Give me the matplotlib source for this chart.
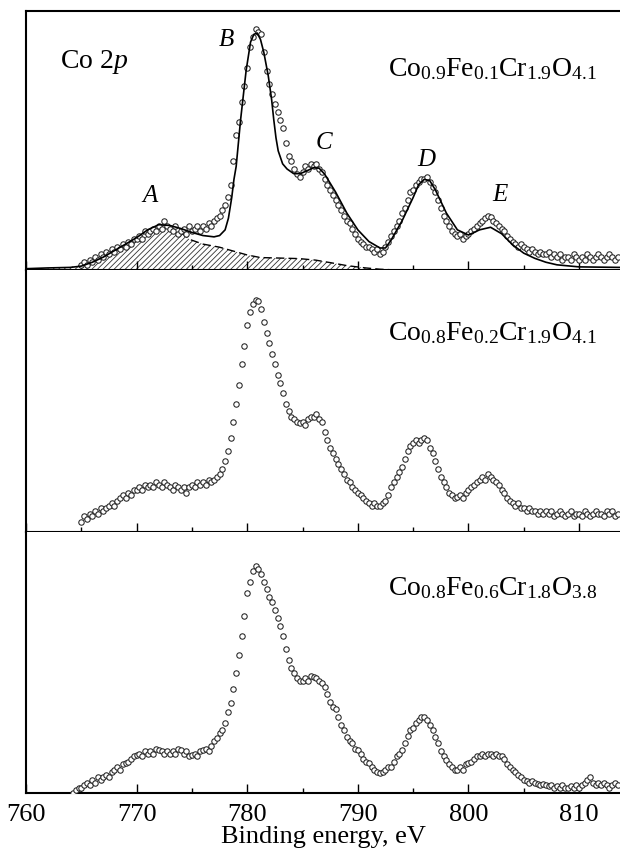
import numpy as np
import matplotlib
matplotlib.use("Agg")
import matplotlib.pyplot as plt

plt.rcParams['font.family'] = ['Liberation Serif', 'DejaVu Serif']
plt.rcParams['mathtext.fontset'] = 'custom'
plt.rcParams['mathtext.rm'] = 'Liberation Serif'
plt.rcParams['mathtext.it'] = 'Liberation Serif:italic'
plt.rcParams['hatch.linewidth'] = 0.6

# energy step of the measured points, eV
step = 0.25

# Co0.9Fe0.1Cr1.9O4.1, points from 765 eV
top_start = 765.0
top_data = [
    0.02, 0.03, 0.02, 0.04, 0.03, 0.05, 0.04, 0.06, 0.05, 0.07, 0.06, 0.08,
    0.07, 0.09, 0.08, 0.10, 0.09, 0.11, 0.10, 0.12, 0.12, 0.13, 0.12, 0.15,
    0.14, 0.15, 0.16, 0.15, 0.17, 0.16, 0.19, 0.17, 0.16, 0.15, 0.17, 0.14,
    0.15, 0.16, 0.14, 0.17, 0.15, 0.16, 0.17, 0.15, 0.17, 0.16, 0.18, 0.17,
    0.19, 0.20, 0.21, 0.23, 0.25, 0.28, 0.33, 0.42, 0.52, 0.57, 0.65, 0.71,
    0.78, 0.86, 0.90, 0.93, 0.92, 0.91, 0.84, 0.77, 0.72, 0.68, 0.64, 0.61,
    0.58, 0.55, 0.49, 0.44, 0.42, 0.39, 0.37, 0.36, 0.38, 0.40, 0.39, 0.41,
    0.40, 0.41, 0.39, 0.38, 0.35, 0.33, 0.31, 0.29, 0.27, 0.25, 0.23, 0.21,
    0.19, 0.18, 0.16, 0.14, 0.12, 0.11, 0.10, 0.09, 0.09, 0.08, 0.07, 0.08,
    0.06, 0.07, 0.09, 0.11, 0.13, 0.15, 0.17, 0.19, 0.22, 0.24, 0.27, 0.30,
    0.31, 0.33, 0.34, 0.35, 0.35, 0.36, 0.34, 0.32, 0.30, 0.27, 0.24, 0.21,
    0.19, 0.17, 0.15, 0.14, 0.13, 0.14, 0.12, 0.13, 0.14, 0.15, 0.16, 0.17,
    0.18, 0.19, 0.20, 0.21, 0.205, 0.19, 0.18, 0.17, 0.16, 0.15, 0.13, 0.12,
    0.11, 0.10, 0.09, 0.10, 0.09, 0.08, 0.07, 0.08, 0.07, 0.06, 0.07, 0.06,
    0.06, 0.07, 0.05, 0.06, 0.05, 0.06, 0.04, 0.05, 0.05, 0.04, 0.06, 0.05,
    0.04, 0.05, 0.04, 0.06, 0.05, 0.04, 0.05, 0.06, 0.05, 0.04, 0.05, 0.06,
    0.05, 0.04, 0.05,
]

# Co0.8Fe0.2Cr1.9O4.1
mid_start = 765.0
mid_data = [
    0.04, 0.06, 0.05, 0.07, 0.06, 0.08, 0.07, 0.09, 0.08, 0.09, 0.10, 0.11,
    0.10, 0.12, 0.13, 0.14, 0.13, 0.15, 0.14, 0.16, 0.16, 0.17, 0.16, 0.18,
    0.17, 0.18, 0.17, 0.19, 0.18, 0.17, 0.19, 0.18, 0.17, 0.16, 0.18, 0.17,
    0.16, 0.17, 0.15, 0.17, 0.18, 0.17, 0.19, 0.18, 0.19, 0.18, 0.20, 0.19,
    0.20, 0.21, 0.22, 0.24, 0.27, 0.31, 0.36, 0.42, 0.49, 0.56, 0.64, 0.71,
    0.79, 0.84, 0.87, 0.885, 0.88, 0.85, 0.80, 0.76, 0.72, 0.68, 0.64, 0.60,
    0.57, 0.53, 0.49, 0.46, 0.44, 0.43, 0.42, 0.415, 0.42, 0.41, 0.43, 0.44,
    0.44, 0.45, 0.43, 0.42, 0.38, 0.35, 0.32, 0.30, 0.28, 0.26, 0.24, 0.22,
    0.20, 0.19, 0.17, 0.16, 0.15, 0.14, 0.13, 0.12, 0.11, 0.10, 0.11, 0.10,
    0.10, 0.11, 0.12, 0.14, 0.17, 0.19, 0.21, 0.23, 0.25, 0.28, 0.31, 0.33,
    0.34, 0.35, 0.34, 0.35, 0.36, 0.35, 0.32, 0.30, 0.27, 0.24, 0.21, 0.19,
    0.17, 0.15, 0.14, 0.13, 0.135, 0.14, 0.13, 0.15, 0.16, 0.17, 0.18, 0.19,
    0.20, 0.21, 0.20, 0.22, 0.21, 0.20, 0.19, 0.18, 0.16, 0.15, 0.13, 0.12,
    0.11, 0.10, 0.11, 0.09, 0.09, 0.08, 0.09, 0.08, 0.08, 0.07, 0.08, 0.07,
    0.08, 0.07, 0.08, 0.06, 0.07, 0.08, 0.07, 0.06, 0.07, 0.08, 0.06, 0.07,
    0.07, 0.06, 0.08, 0.07, 0.06, 0.07, 0.08, 0.07, 0.07, 0.06, 0.08, 0.07,
    0.08, 0.06, 0.07,
]

# Co0.8Fe0.6Cr1.8O3.8
bot_start = 764.25
bot_data = [
    0.0, 0.01, 0.02,
    0.02, 0.03, 0.04, 0.03, 0.05, 0.04, 0.06, 0.05, 0.06, 0.07, 0.06, 0.08,
    0.09, 0.10, 0.09, 0.11, 0.115, 0.12, 0.13, 0.14, 0.145, 0.15, 0.14, 0.16,
    0.15, 0.16, 0.15, 0.17, 0.165, 0.16, 0.15, 0.16, 0.15, 0.16, 0.15, 0.17,
    0.165, 0.15, 0.16, 0.14, 0.145, 0.15, 0.14, 0.16, 0.165, 0.17, 0.16, 0.18,
    0.20, 0.21, 0.23, 0.24, 0.27, 0.31, 0.345, 0.40, 0.46, 0.53, 0.60, 0.68,
    0.765, 0.81, 0.85, 0.87, 0.86, 0.84, 0.81, 0.78, 0.75, 0.73, 0.70, 0.67,
    0.64, 0.60, 0.55, 0.51, 0.48, 0.46, 0.44, 0.43, 0.43, 0.44, 0.43, 0.45,
    0.445, 0.44, 0.43, 0.42, 0.405, 0.38, 0.35, 0.33, 0.32, 0.29, 0.26, 0.24,
    0.215, 0.20, 0.19, 0.17, 0.165, 0.15, 0.13, 0.12, 0.115, 0.10, 0.09, 0.08,
    0.077, 0.08, 0.09, 0.10, 0.10, 0.12, 0.14, 0.15, 0.165, 0.19, 0.22, 0.24,
    0.25, 0.27, 0.28, 0.29, 0.29, 0.28, 0.26, 0.24, 0.215, 0.19, 0.16, 0.14,
    0.125, 0.11, 0.10, 0.09, 0.09, 0.10, 0.09, 0.11, 0.115, 0.12, 0.13, 0.14,
    0.14, 0.15, 0.14, 0.15, 0.15, 0.14, 0.15, 0.14, 0.14, 0.13, 0.11, 0.10,
    0.09, 0.08, 0.07, 0.06, 0.05, 0.045, 0.04, 0.045, 0.04, 0.035, 0.03, 0.035,
    0.03, 0.025, 0.03, 0.02, 0.025, 0.02, 0.03, 0.02, 0.02, 0.025, 0.02, 0.03,
    0.02, 0.03, 0.04, 0.05, 0.06, 0.04, 0.03, 0.04, 0.03, 0.04, 0.03, 0.02,
    0.03, 0.04, 0.03,
]

# fitted envelope (solid line) for the top spectrum
fit_x = [760, 762, 764, 765, 766, 767, 768, 769, 770, 771, 772, 773, 774,
         775, 776, 777, 777.5, 778, 778.3, 778.6, 778.8, 779, 779.4, 779.9,
         780.3, 780.6, 780.9, 781.2, 781.5, 781.9, 782.2, 782.4, 782.6,
         782.8, 783.2, 783.6, 784.2, 784.8, 785.5, 786, 786.5, 787, 787.5,
         788, 789, 790, 791, 792, 792.5, 793, 794, 795, 795.5, 796, 796.5,
         797, 798, 799, 800, 801, 802, 803, 804, 805, 806, 807, 808, 810,
         813.7]
fit_y = [0.005, 0.008, 0.01, 0.015, 0.03, 0.05, 0.075, 0.10, 0.125, 0.155,
         0.175, 0.172, 0.16, 0.145, 0.133, 0.128, 0.133, 0.155, 0.20, 0.28,
         0.35, 0.40, 0.58, 0.77, 0.88, 0.91, 0.915, 0.89, 0.84, 0.75, 0.66,
         0.58, 0.51, 0.46, 0.41, 0.39, 0.372, 0.372, 0.385, 0.395, 0.393,
         0.37, 0.335, 0.30, 0.22, 0.155, 0.11, 0.085, 0.085, 0.115, 0.19,
         0.28, 0.33, 0.35, 0.345, 0.31, 0.22, 0.155, 0.135, 0.155, 0.165,
         0.14, 0.097, 0.065, 0.045, 0.03, 0.02, 0.012, 0.01]

# component A (hatched, dashed outline)
comp_x = [760, 762, 764, 766, 768, 770, 771, 772, 772.5, 773, 774, 774.8,
          776, 777.5, 779, 780, 781.2, 783, 784.7, 786.2, 787.7, 789, 790.7,
          792, 793.5]
comp_y = [0.003, 0.006, 0.012, 0.03, 0.07, 0.12, 0.15, 0.17, 0.175, 0.17,
          0.145, 0.118, 0.10, 0.088, 0.07, 0.058, 0.048, 0.046, 0.044, 0.038,
          0.027, 0.017, 0.008, 0.003, 0.0]

labels = [r'Co$_{0.9}$Fe$_{0.1}$Cr$_{1.9}$O$_{4.1}$',
          r'Co$_{0.8}$Fe$_{0.2}$Cr$_{1.9}$O$_{4.1}$',
          r'Co$_{0.8}$Fe$_{0.6}$Cr$_{1.8}$O$_{3.8}$']
label_y = [0.75, 0.733, 0.759]

peak_names = ['A', 'B', 'C', 'D', 'E']
peak_x = [771.2, 778.1, 786.9, 796.2, 802.8]
peak_y = [0.262, 0.865, 0.467, 0.40, 0.266]

fig = plt.figure(figsize=(6.2, 8.59), dpi=100)
bottoms = [1 - 270 / 859, 1 - 532 / 859, 1 - 793 / 859]
tops = [1 - 11 / 859, 1 - 270 / 859, 1 - 532 / 859]
left = 26 / 620

series = [(top_start, top_data), (mid_start, mid_data), (bot_start, bot_data)]
axes = []
for i in range(3):
    ax = fig.add_axes([left, bottoms[i], 1 - left, tops[i] - bottoms[i]])
    axes.append(ax)
    start, vals = series[i]
    vals = np.array(vals)
    x = start + step * np.arange(len(vals))
    ax.plot(x, vals, 'o', ms=3.9, mfc='white', mec='#222222', mew=0.75, zorder=3)
    ax.set_xlim(760, 813.7)
    ax.set_ylim(0, 1)
    ax.set_yticks([])
    ax.set_xticks(range(760, 811, 10))
    ax.set_xticks(range(765, 814, 5), minor=True)
    ax.tick_params(axis='x', which='major', direction='in', length=6.5,
                   width=1.0, labelsize=19, pad=8)
    ax.tick_params(axis='x', which='minor', direction='in', length=3.8,
                   width=1.0)
    ax.spines['right'].set_visible(False)
    for s in ['left', 'bottom', 'top']:
        ax.spines[s].set_linewidth(1.5)
    if i > 0:
        ax.spines['top'].set_visible(False)
    if i < 2:
        ax.tick_params(axis='x', labelbottom=False)
    ax.text(792.7, label_y[i], labels[i], fontsize=20)

ax = axes[0]
cx = np.array(comp_x)
cy = np.array(comp_y)
ax.fill_between(cx, 0, cy, facecolor='none', edgecolor='#333333',
                hatch='//////', linewidth=0, zorder=1)
tail = cx >= 774
ax.plot(cx[tail], cy[tail], '--', color='black', lw=1.0, dashes=(6, 3),
        zorder=2)
ax.plot(fit_x, fit_y, '-', color='black', lw=1.2, zorder=4)
ax.text(763.1, 0.78, r'Co 2$p$', fontsize=20)
for name, px, py in zip(peak_names, peak_x, peak_y):
    ax.text(px, py, name, fontsize=18, style='italic', ha='center')

axes[2].set_xlabel('Binding energy, eV', fontsize=19, labelpad=0)

fig.savefig('out.png', dpi=100)
